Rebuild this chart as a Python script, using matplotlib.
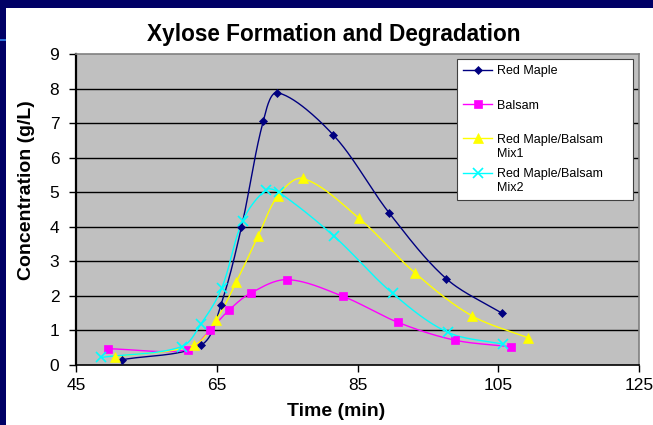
import numpy as np
import matplotlib
matplotlib.use("Agg")
import matplotlib.pyplot as plt
from matplotlib.patches import Rectangle

plt.rcParams['font.family'] = ['Liberation Sans', 'DejaVu Sans']

# time (min) / concentration (g/L) for each wood sample
temps_erable = [51.5, 62.8, 65.6, 68.5, 71.6, 73.6, 81.5, 89.5, 97.6, 105.5]
conc_erable = [0.15, 0.58, 1.75, 3.98, 7.05, 7.88, 6.67, 4.40, 2.50, 1.50]

temps_balsam = [49.5, 60.9, 64.0, 66.7, 69.8, 75.0, 82.9, 90.8, 98.8, 106.8]
conc_balsam = [0.47, 0.44, 1.00, 1.58, 2.08, 2.47, 1.99, 1.23, 0.72, 0.53]

temps_mix1 = [50.6, 61.8, 64.9, 67.8, 70.9, 73.7, 77.2, 85.2, 93.2, 101.2, 109.2]
conc_mix1 = [0.24, 0.58, 1.30, 2.41, 3.74, 4.90, 5.40, 4.25, 2.66, 1.43, 0.79]

temps_mix2 = [48.6, 60.0, 62.8, 65.7, 68.7, 72.0, 73.8, 81.7, 90.0, 97.8, 105.7]
conc_mix2 = [0.22, 0.53, 1.20, 2.22, 4.18, 5.07, 5.00, 3.72, 2.07, 0.95, 0.60]

# libellés sur deux lignes pour que chaque entrée ait la même hauteur
noms = ["Red Maple\n", "Balsam\n", "Red Maple/Balsam\nMix1", "Red Maple/Balsam\nMix2"]
x_ticks = [45, 65, 85, 105, 125]
y_ticks = list(range(10))

# pixels par unité, pour mesurer les distances dans le lissage
SX, SY = 7.04, 34.6


def lisser(x, y, n=30):
    # bezier par morceaux, points de controle proportionnels aux longueurs des segments
    pts = np.column_stack([x, y]).astype(float)
    P = np.vstack([pts[0], pts, pts[-1]])
    echelle = np.array([SX, SY])

    def dist(a, b):
        return np.hypot(*((b - a) * echelle))

    t = np.linspace(0, 1, n)[:, None]
    morceaux = []
    for i in range(1, len(P) - 2):
        p0, p1, p2, p3 = P[i - 1], P[i], P[i + 1], P[i + 2]
        d01, d12, d23 = dist(p0, p1), dist(p1, p2), dist(p2, p3)
        c1 = p1 + (p2 - p0) * d12 / (d01 + d12) / 3
        c2 = p2 - (p3 - p1) * d12 / (d12 + d23) / 3
        seg = (1 - t) ** 3 * p1 + 3 * (1 - t) ** 2 * t * c1 + 3 * (1 - t) * t ** 2 * c2 + t ** 3 * p2
        morceaux.append(seg if i == 1 else seg[1:])
    c = np.vstack(morceaux)
    return c[:, 0], c[:, 1]


fig = plt.figure(figsize=(6.53, 4.25), dpi=100)
fig.patch.set_facecolor("white")

# bandeau bleu de la diapo
fig.patches.append(Rectangle((0, 1 - 8 / 425), 1, 8 / 425, transform=fig.transFigure,
                             facecolor="#000066", edgecolor="none", zorder=0))
fig.patches.append(Rectangle((0, 0), 6 / 653, 1, transform=fig.transFigure,
                             facecolor="#000066", edgecolor="none", zorder=0))
fig.patches.append(Rectangle((0, 1 - 41 / 425), 6 / 653, 2 / 425, transform=fig.transFigure,
                             facecolor="#2a6fd6", edgecolor="none", zorder=1))

ax = fig.add_axes([76 / 653, 1 - 365 / 425, (639 - 76) / 653, (365 - 54) / 425])
ax.set_facecolor("#C0C0C0")

series = [
    (temps_erable, conc_erable, "#000080", "D", 4),
    (temps_balsam, conc_balsam, "#FF00FF", "s", 5.5),
    (temps_mix1, conc_mix1, "#FFFF00", "^", 7.5),
    (temps_mix2, conc_mix2, "#00FFFF", "x", 7),
]

handles = []
for (x, y, couleur, marqueur, taille), nom in zip(series, noms):
    mew = 1.2 if marqueur == "x" else 0.5
    xs, ys = lisser(x, y)
    ax.plot(xs, ys, color=couleur, lw=1.0, zorder=3)
    ax.plot(x, y, linestyle="none", marker=marqueur, markersize=taille,
            color=couleur, markeredgewidth=mew, zorder=4)
    h, = ax.plot([], [], color=couleur, lw=1.0, marker=marqueur, markersize=taille,
                 markeredgewidth=mew, label=nom)
    handles.append(h)

ax.set_xlim(45, 125)
ax.set_ylim(0, 9)
ax.set_xticks(x_ticks)
ax.set_yticks(y_ticks)
ax.tick_params(axis="both", direction="out", length=5, width=1, labelsize=12.5, colors="black")
ax.tick_params(axis="x", pad=4)
ax.tick_params(axis="y", pad=7)

for yv in y_ticks[1:-1]:
    ax.axhline(yv, color="black", lw=1.0, zorder=1)

ax.spines["left"].set_color("black")
ax.spines["left"].set_linewidth(1.6)
ax.spines["bottom"].set_color("black")
ax.spines["bottom"].set_linewidth(1.2)
ax.spines["top"].set_color("#808080")
ax.spines["top"].set_linewidth(1.2)
ax.spines["right"].set_color("#808080")
ax.spines["right"].set_linewidth(1.2)

leg = ax.legend(handles=handles, loc="upper left",
                bbox_to_anchor=(457 / 653, 1 - 195 / 425, 176 / 653, 136 / 425),
                bbox_transform=fig.transFigure, mode="expand", borderaxespad=0,
                fontsize=9, frameon=True, fancybox=False, handlelength=2.3,
                handletextpad=0.4, labelspacing=0.68, borderpad=0.5)
leg.get_frame().set_edgecolor("#404040")
leg.get_frame().set_linewidth(0.8)
leg.get_frame().set_facecolor("white")
leg.get_frame().set_alpha(1)
# symbole aligné sur la première ligne du libellé
for colonne in leg._legend_handle_box.get_children():
    for entree in colonne.get_children():
        entree.align = "top"

fig.text(334 / 653, 1 - 34 / 425, "Xylose Formation and Degradation",
         ha="center", va="center", fontsize=16.3, fontweight="bold")
fig.text(336 / 653, 1 - 412 / 425, "Time (min)", ha="center", va="center",
         fontsize=14, fontweight="bold")
fig.text(27 / 653, 1 - 190 / 425, "Concentration (g/L)", ha="center", va="center",
         rotation=90, fontsize=14, fontweight="bold")

fig.savefig("out.png", dpi=100)
